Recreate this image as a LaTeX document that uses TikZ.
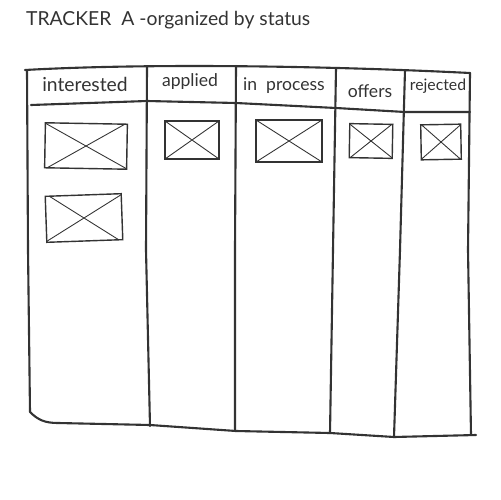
\documentclass[tikz,border=0pt]{standalone}
\usepackage{fontspec}
\setmainfont{Lato}
\usepackage{tikz}
\usetikzlibrary{positioning}

\definecolor{ink}{HTML}{333333}

\tikzset{
  frame/.style={draw=ink, line width=1.2pt, line cap=round, line join=round},
  head/.style={text=ink, font=\fontsize{10}{12}\selectfont, inner sep=1pt},
  card/.style={draw=ink, line width=0.8pt, inner sep=0pt,
    path picture={\draw[ink, line width=0.5pt]
      (path picture bounding box.north west) -- (path picture bounding box.south east)
      (path picture bounding box.south west) -- (path picture bounding box.north east);}}
}

\begin{document}
\begin{tikzpicture}[x=0.02cm, y=-0.02cm]
  \useasboundingbox (0,0) rectangle (500,500);

  \node[text=ink, font=\fontsize{11}{13}\selectfont, anchor=west] (title) at (20,20)
    {TRACKER\ \ A -organized by status};

  % board outline
  \draw[frame] (25,70) .. controls (150,63) and (330,66) .. (470,73);
  \draw[frame] (27,70) -- (28,250) -- (30,412) .. controls (38,420) and (45,423) .. (58,423)
    -- (150,425) -- (236,431) -- (330,433) -- (394,437) -- (476,435);
  \draw[frame] (470,73) -- (468,250) -- (471,435);
  \draw[frame] (31,105) -- (147,101) -- (236,103) -- (336,108) -- (405,112) -- (470,112);

  % column dividers
  \draw[frame] (147,67) -- (146,250) -- (150,426);
  \draw[frame] (236,66) -- (235,250) -- (235,431);
  \draw[frame] (336,68) -- (333,250) -- (330,433);
  \draw[frame] (405,70) -- (400,250) -- (394,437);

  % column titles
  \node[head, font=\fontsize{11}{13}\selectfont] (interested) at (85,84) {interested};
  \node[head] (applied) at (190,82) {applied};
  \node[head] (inprocess) at (284,86) {in\ \ process};
  \node[head] (offers) at (370,91) {offers};
  \node[head, font=\fontsize{9}{11}\selectfont] (rejected) at (438,86) {rejected};

  % cards
  \node[card, minimum width=1.64cm, minimum height=0.9cm, rotate=-1] (c1) at (86,146) {};
  \node[card, minimum width=1.52cm, minimum height=0.92cm, rotate=2] (c2) at (84,218) {};
  \node[card, minimum width=1.08cm, minimum height=0.76cm] (c3) at (192,140) {};
  \node[card, minimum width=1.32cm, minimum height=0.84cm] (c4) at (289,141) {};
  \node[card, minimum width=0.86cm, minimum height=0.68cm, rotate=-1] (c5) at (371,141) {};
  \node[card, minimum width=0.8cm, minimum height=0.7cm, rotate=1] (c6) at (441,142) {};

\end{tikzpicture}
\end{document}
